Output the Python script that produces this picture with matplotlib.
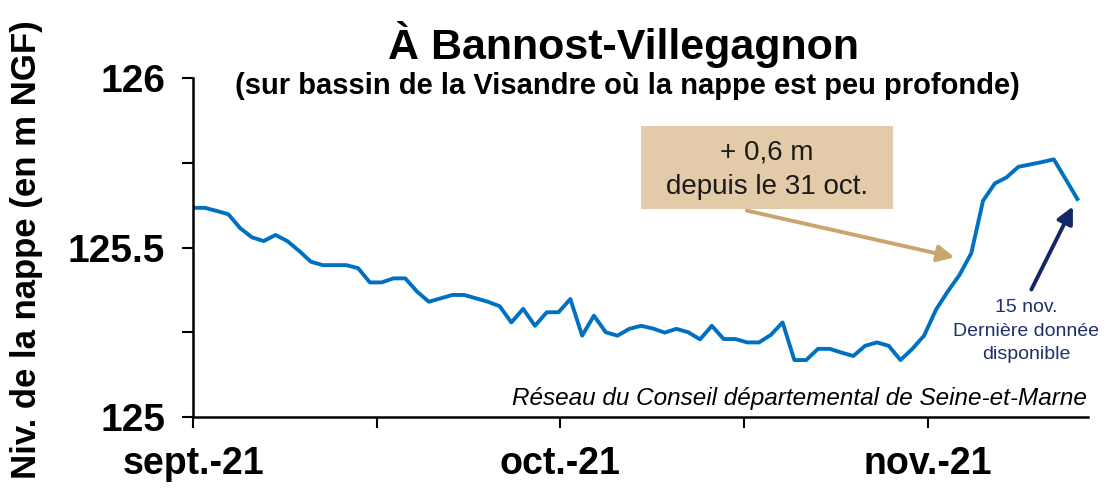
import matplotlib
matplotlib.use("Agg")
import matplotlib.pyplot as plt
from matplotlib.patches import Rectangle
import numpy as np

# ---- data (daily groundwater level, 1 Sept -> 15 Nov 2021) ----
levels = [125.617, 125.617, 125.608, 125.598, 125.557, 125.530, 125.519, 125.537,
          125.519, 125.490, 125.458, 125.448, 125.448, 125.448, 125.439, 125.397,
          125.397, 125.409, 125.409, 125.370, 125.340, 125.350, 125.360, 125.360,
          125.350, 125.340, 125.327, 125.279, 125.319, 125.269, 125.309, 125.309,
          125.348, 125.240, 125.299, 125.250, 125.240, 125.260, 125.269, 125.261,
          125.249, 125.260, 125.250, 125.229, 125.269, 125.230, 125.230, 125.220,
          125.220, 125.242, 125.279, 125.168, 125.168, 125.201, 125.201, 125.190,
          125.180, 125.210, 125.220, 125.210, 125.168, 125.201, 125.240, 125.316,
          125.370, 125.419, 125.483, 125.638, 125.689, 125.707, 125.738, 125.745,
          125.752, 125.760, 125.702, 125.643]
days = np.arange(len(levels))
month_labels = ["sept.-21", "oct.-21", "nov.-21"]
y_ticks = [125, 125.5, 126]
y_tick_labels = ["125", "125.5", "126"]

title = "À Bannost-Villegagnon"
subtitle = "(sur bassin de la Visandre où la nappe est peu profonde)"
ylabel = "Niv. de la nappe (en m NGF)"
source = "Réseau du Conseil départemental de Seine-et-Marne"
box_text = "+ 0,6 m\ndepuis le 31 oct."
last_text = "15 nov.\nDernière donnée\ndisponible"

FONT = ["Liberation Sans", "DejaVu Sans"]
plt.rcParams["font.family"] = FONT

W, H = 1104, 490
fig = plt.figure(figsize=(W / 100, H / 100), dpi=100)
ax = fig.add_axes([193 / W, 1 - 417 / H, (1088 - 193) / W, (417 - 78) / H])

ax.plot(days, levels, color="#0070C0", lw=2.8, solid_joinstyle="round")

ax.set_xlim(0, 75.9)
ax.set_ylim(125, 126)
for s in ["top", "right"]:
    ax.spines[s].set_visible(False)
for s in ["left", "bottom"]:
    ax.spines[s].set_linewidth(1.8)
    ax.spines[s].set_color("black")

step = 15.58
ax.set_xticks([0, step * 2, step * 4])
ax.set_xticklabels(month_labels, fontsize=27, fontweight="bold")
ax.set_xticks([step, step * 3], minor=True)
ax.set_yticks(y_ticks)
ax.set_yticklabels(y_tick_labels, fontsize=28, fontweight="bold")
ax.set_yticks([125.25, 125.75], minor=True)
ax.tick_params(axis="both", which="both", direction="out", length=8, width=1.5)
ax.tick_params(axis="x", pad=13)
ax.tick_params(axis="y", pad=12)

fig.text(10 / W, 1 - 250 / H, ylabel, rotation=90, fontsize=25, fontweight="bold",
         ha="left", va="center")
fig.text(623 / W, 1 - 44 / H, title, fontsize=31, fontweight="bold",
         ha="center", va="center")
fig.text(627 / W, 1 - 86 / H, subtitle, fontsize=21, fontweight="bold",
         ha="center", va="center")

fig.text(1087 / W, 1 - 398 / H, source, fontsize=17.5, style="italic",
         ha="right", va="center")

# annotation box
fig.patches.append(Rectangle((641 / W, 1 - 209 / H), 252 / W, 83 / H,
                             transform=fig.transFigure, facecolor="#E3CBAA",
                             edgecolor="none", zorder=1))
fig.text(767 / W, 1 - 170 / H, box_text, fontsize=20, ha="center", va="center",
         color="#1a1a1a", linespacing=1.45)

def px2data(px, py):
    return ((px - 193) / 11.79, 126 - (py - 78) / 339)

ax.annotate("", xy=px2data(957, 258), xytext=px2data(744, 210),
            arrowprops=dict(arrowstyle="-|>,head_length=1.0,head_width=0.5",
                            color="#C9A46E", lw=2.8), annotation_clip=False)
ax.annotate("", xy=px2data(1074, 204), xytext=px2data(1030, 292),
            arrowprops=dict(arrowstyle="-|>,head_length=1.0,head_width=0.5",
                            color="#142664", lw=2.8), annotation_clip=False)
fig.text(1026 / W, 1 - 331 / H, last_text, fontsize=14, ha="center", va="center",
         color="#1F2F6E", linespacing=1.5)

fig.savefig("out.png", dpi=100)
